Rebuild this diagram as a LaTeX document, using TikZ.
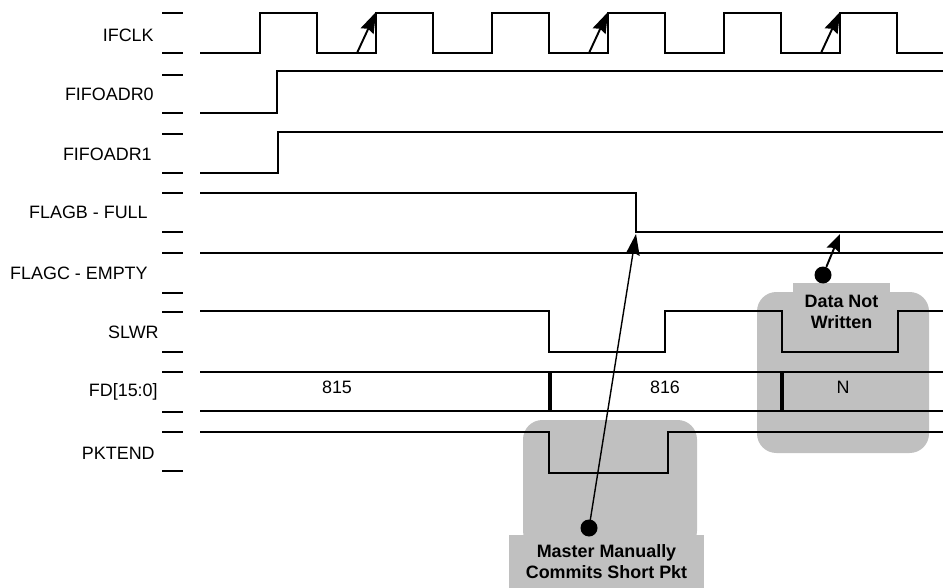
\documentclass[tikz,border=0pt]{standalone}
\usepackage{fontspec}
\setmainfont{Liberation Sans}
\usetikzlibrary{arrows.meta}
\definecolor{notegray}{RGB}{192,192,192}
\tikzset{
  sig/.style={line width=1.1pt, line join=miter},
  tickmark/.style={line width=1.1pt},
  lbl/.style={anchor=east, inner sep=0pt},
  val/.style={inner sep=0pt},
  notebox/.style={fill=notegray, inner sep=0pt, align=center, font=\fontsize{10.2}{12}\selectfont\bfseries},
  dot/.style={circle, fill=black, inner sep=0pt, minimum size=0.34cm},
}
\begin{document}
\begin{tikzpicture}[x=0.02cm, y=-0.02cm, font=\fontsize{10.2}{12}\selectfont, line cap=butt, >={Stealth[length=12pt,width=8pt,inset=1.5pt]}]
\useasboundingbox (0,0) rectangle (943,588);

% grey note areas
\fill[notegray, rounded corners=11pt] (523,420) rectangle (697,550);
\fill[notegray, rounded corners=11pt] (757,292) rectangle (929,453);
\node[notebox, minimum width=3.9cm, minimum height=1.06cm] (mnote) at (606.5,561.5) {Master Manually\\Commits Short Pkt};
\node[notebox, minimum width=1.94cm, minimum height=1.14cm] (dnote) at (841.5,311.5) {Data Not\\Written};

% signal names and level marks
\foreach \n/\x/\y/\t in {clk/154/35/IFCLK, adra/154/94/FIFOADR0, adrb/152/154/FIFOADR1,
    full/148/212/FLAGB - FULL, empty/148/273/FLAGC - EMPTY, slwr/159/332/SLWR,
    fd/158/392/{FD[15:0]}, pkt/155/453/PKTEND}
  \node[lbl] (\n) at (\x,\y) {\t};
\foreach \y in {13,53,75,113,134,173,193,232,253,293,312,352,372,412,432,471}
  \draw[tickmark] (162,\y) -- (183,\y);

% waveforms
\draw[sig] (200,53) foreach \r in {260,376,492,608,724,840} { -- (\r,53) -- (\r,13) -- (\r+57,13) -- (\r+57,53) } -- (943,53);
\draw[sig] (200,113) -- (277,113) -- (277,71) -- (943,71);
\draw[sig] (200,173) -- (278,173) -- (278,132) -- (943,132);
\draw[sig] (200,193) -- (636,193) -- (636,232) -- (943,232);
\draw[sig] (200,253) -- (943,253);
\draw[sig] (200,311) -- (549,311) -- (549,352) -- (665,352) -- (665,311) -- (782,311)
  -- (782,352) -- (898,352) -- (898,311) -- (943,311);
\draw[sig] (200,372) -- (943,372);
\draw[sig] (200,411) -- (943,411);
\draw[line width=1.8pt] (550,372) -- (550,411);
\draw[line width=1.8pt] (782,372) -- (782,411);
\draw[sig] (200,432) -- (549,432) -- (549,473) -- (668,473) -- (668,432) -- (943,432);

\node[val] (d815) at (337,387) {815};
\node[val] (d816) at (665,387) {816};
\node[val] (dN) at (843,387) {N};

% clock edge arrows
\foreach \r in {376,608,840} {
  \coordinate (cf\r) at (\r-19,53);
  \coordinate (ct\r) at (\r,12);
  \draw[->, line width=1.1pt] (cf\r) -- (ct\r);
}

% callouts
\node[dot] (mdot) at (589,528) {};
\coordinate (fullfall) at (636,234);
\draw[->, line width=0.8pt] (mdot.center) -- (fullfall);
\node[dot] (ddot) at (823,275) {};
\coordinate (fullpt) at (840,234);
\draw[-{Stealth[length=10pt,width=8pt,inset=1.5pt]}, line width=1.1pt] (ddot) -- (fullpt);
\end{tikzpicture}
\end{document}
